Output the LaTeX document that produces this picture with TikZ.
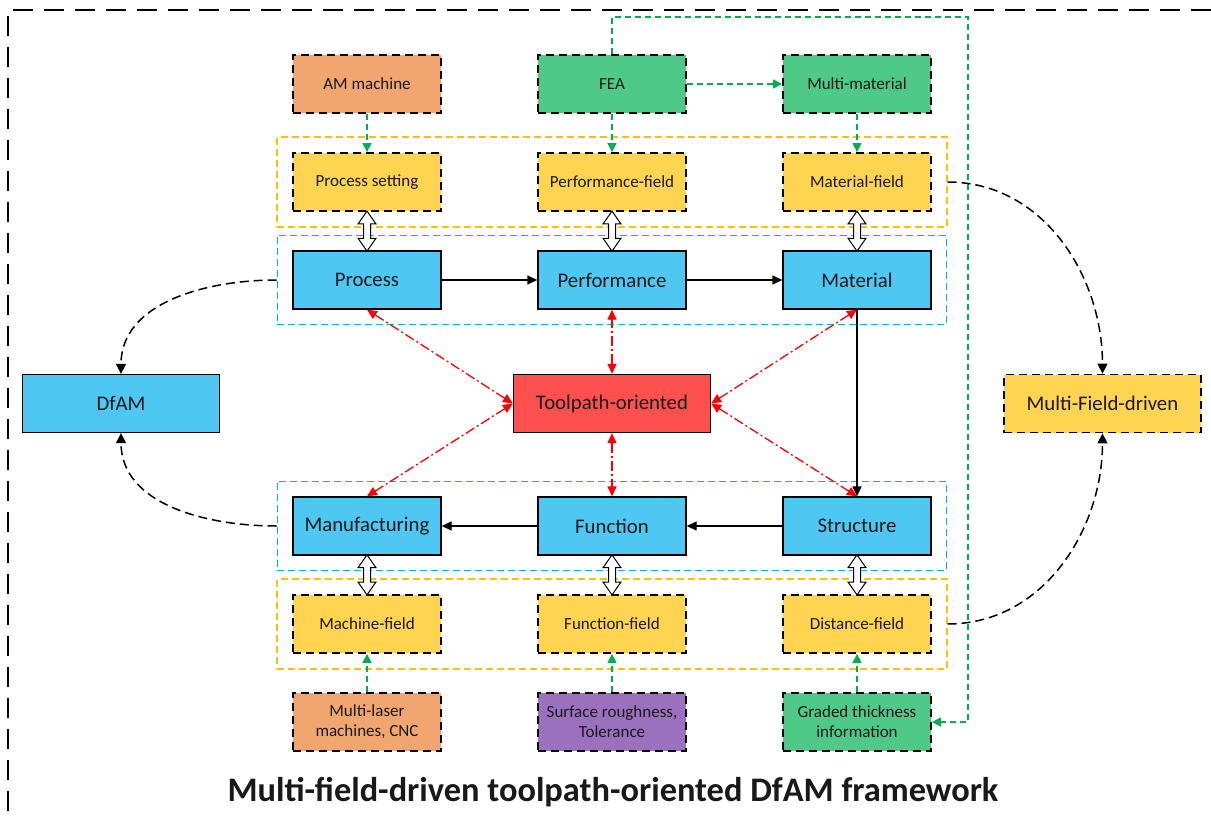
\documentclass[tikz,border=0pt]{standalone}
\usepackage{fontspec}
\setmainfont{Carlito}
\usetikzlibrary{arrows.meta,shapes.arrows,fit,calc}
\definecolor{cOr}{RGB}{240,166,110}
\definecolor{cGr}{RGB}{78,201,135}
\definecolor{cYe}{RGB}{254,212,80}
\definecolor{cBl}{RGB}{78,199,243}
\definecolor{cRe}{RGB}{255,80,80}
\definecolor{cPu}{RGB}{155,112,190}
\definecolor{lGr}{RGB}{0,176,80}
\definecolor{lYe}{RGB}{255,192,0}
\definecolor{lBl}{RGB}{0,176,240}
\definecolor{txt}{RGB}{25,25,25}
\begin{document}
\begin{tikzpicture}[x=1pt,y=-1pt,
  dbox/.style={draw=black, line width=1.8pt, dash pattern=on 8pt off 5pt,
    minimum width=148pt, minimum height=58pt, inner sep=2pt, align=center,
    text=txt, font=\fontsize{17}{20}\selectfont},
  bbox/.style={draw=black, line width=1.3pt, fill=cBl, minimum width=148pt,
    minimum height=58pt, inner sep=0pt, text=txt, font=\fontsize{20.8}{24}\selectfont},
  wbox/.style={bbox, minimum width=197pt},
  grpY/.style={draw=lYe, line width=1.3pt, dash pattern=on 7pt off 4pt, inner sep=15pt},
  grpB/.style={draw=lBl, line width=1.3pt, dash pattern=on 7pt off 4pt, inner sep=15pt},
  garr/.style={draw=lGr, line width=1.4pt, dash pattern=on 6pt off 4pt, -{Triangle[length=9pt,width=9pt]}},
  barr/.style={draw=black, line width=1.3pt, -{Triangle[length=10pt,width=9pt]}},
  rarr/.style={draw=red, line width=1.3pt, dash pattern=on 10pt off 3pt on 2pt off 3pt,
    {Triangle[length=10pt,width=9pt]}-{Triangle[length=10pt,width=9pt]}},
  carr/.style={draw=black, line width=1.5pt, dash pattern=on 9pt off 5pt, -{Triangle[length=10pt,width=10pt]}},
  hollow/.style={shape=double arrow, draw=black, line width=1pt, fill=white, rotate=90,
    minimum height=40pt, inner xsep=0pt, inner ysep=3pt, double arrow head extend=5.5pt,
    double arrow tip angle=70}
]
\useasboundingbox (0,0) rectangle (1211,816);
% outer frame
\draw[line width=2.6pt, dash pattern=on 20pt off 11pt] (1211,10) -- (8,10) -- (8,816);

% top row
\node[dbox, fill=cOr] (am)  at (367,84) {AM machine};
\node[dbox, fill=cGr] (fea) at (612,84) {FEA};
\node[dbox, fill=cGr] (mm)  at (857,84) {Multi-material};
% field row top
\node[dbox, fill=cYe] (ps) at (367,182) {Process setting};
\node[dbox, fill=cYe] (pf) at (612,182) {Performance-field};
\node[dbox, fill=cYe] (mf) at (857,182) {Material-field};
% blue row top
\node[bbox] (pro) at (367,280) {Process};
\node[bbox] (per) at (612,280) {Performance};
\node[bbox] (mat) at (857,280) {Material};
% middle row
\node[wbox] (dfam) at (121,403.5) {DfAM};
\node[wbox, fill=cRe] (tp) at (612,403.5) {Toolpath-oriented};
\node[wbox, fill=cYe, draw=black, line width=1.8pt, dash pattern=on 8pt off 5pt] (mfd) at (1102.5,403.5) {Multi-Field-driven};
% blue row bottom
\node[bbox] (man) at (367,526) {Manufacturing};
\node[bbox] (fun) at (612,526) {Function};
\node[bbox] (str) at (857,526) {Structure};
% field row bottom
\node[dbox, fill=cYe] (mcf) at (367,624) {Machine-field};
\node[dbox, fill=cYe] (fnf) at (612,624) {Function-field};
\node[dbox, fill=cYe] (dsf) at (857,624) {Distance-field};
% source row bottom
\node[dbox, fill=cOr] (ml) at (367,722) {Multi-laser\\machines, CNC};
\node[dbox, fill=cPu] (sr) at (612,722) {Surface roughness,\\Tolerance};
\node[dbox, fill=cGr] (gt) at (857,722) {Graded thickness\\information};

% groups
\node[grpY, fit=(ps)(mf)] (gy1) {};
\node[grpB, fit=(pro)(mat)] (gb1) {};
\node[grpB, fit=(man)(str)] (gb2) {};
\node[grpY, fit=(mcf)(dsf)] (gy2) {};

% title
\node[font=\fontsize{34.4}{38}\selectfont\bfseries, text=txt] (title) at (613,792) {Multi-field-driven toolpath-oriented DfAM framework};

% green arrows
\draw[garr] (am.south) -- (ps.north);
\draw[garr] (fea.south) -- (pf.north);
\draw[garr] (mm.south) -- (mf.north);
\draw[garr] (fea.east) -- (mm.west);
\draw[garr] (ml.north) -- (mcf.south);
\draw[garr] (sr.north) -- (fnf.south);
\draw[garr] (gt.north) -- (dsf.south);
\coordinate (gtop) at (968,17);
\draw[garr] (fea.north) |- (gtop) |- (gt.east);

% black arrows
\draw[barr] (pro) -- (per);
\draw[barr] (per) -- (mat);
\draw[barr] (mat.south) -- (str.north);
\draw[barr] (str) -- (fun);
\draw[barr] (fun) -- (man);

% red arrows
\draw[rarr] (tp.west) -- (pro.south);
\draw[rarr] (tp.north) -- (per.south);
\draw[rarr] (tp.east) -- (mat.south);
\draw[rarr] (tp.west) -- (man.north);
\draw[rarr] (tp.south) -- (fun.north);
\draw[rarr] (tp.east) -- (str.north);

% curved dashed connectors
\draw[carr] (gb1.west) to[out=180,in=90] (dfam.north);
\draw[carr] (gb2.west) to[out=180,in=-90] (dfam.south);
\draw[carr] (gy1.east) to[out=0,in=90] (mfd.north);
\draw[carr] (gy2.east) to[out=0,in=-90] (mfd.south);

% hollow double arrows
\node[hollow] (h1) at ($(ps.south)!0.5!(pro.north)$) {};
\node[hollow] (h2) at ($(pf.south)!0.5!(per.north)$) {};
\node[hollow] (h3) at ($(mf.south)!0.5!(mat.north)$) {};
\node[hollow] (h4) at ($(man.south)!0.5!(mcf.north)$) {};
\node[hollow] (h5) at ($(fun.south)!0.5!(fnf.north)$) {};
\node[hollow] (h6) at ($(str.south)!0.5!(dsf.north)$) {};
\end{tikzpicture}
\end{document}
